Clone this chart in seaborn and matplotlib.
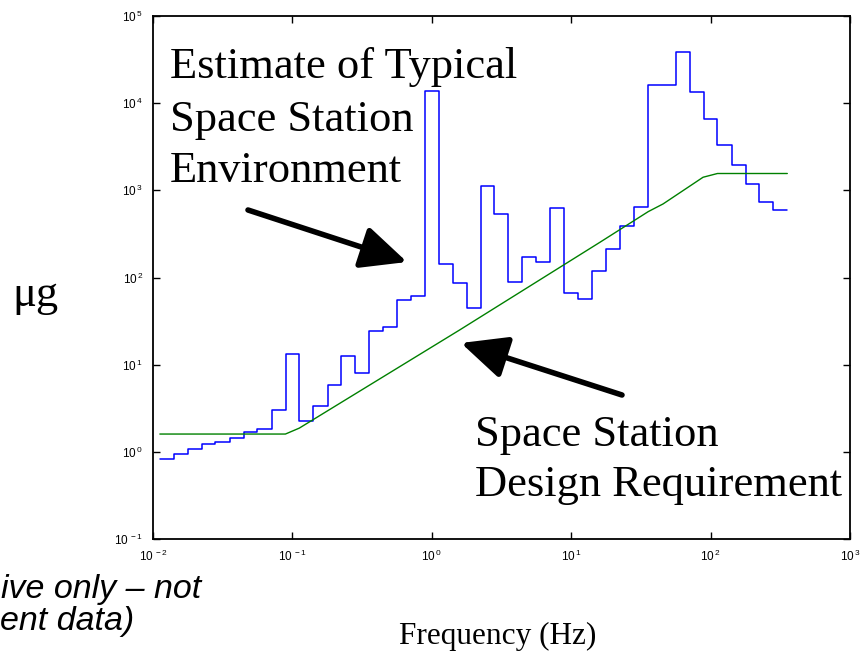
import numpy as np
import matplotlib
matplotlib.use("Agg")
import matplotlib.pyplot as plt
import seaborn as sns
import pandas as pd

# ---- data ----
band_centers = [0.0125, 0.016, 0.02, 0.025, 0.0315, 0.04, 0.05, 0.063, 0.08,
                0.1, 0.125, 0.16, 0.2, 0.25, 0.315, 0.4, 0.5, 0.63, 0.8,
                1.0, 1.25, 1.6, 2.0, 2.5, 3.15, 4.0, 5.0, 6.3, 8.0,
                10, 12.5, 16, 20, 25, 31.5, 40, 50, 63, 80,
                100, 125, 160, 200, 250, 315]
env_ug = [0.82, 0.94, 1.07, 1.22, 1.30, 1.46, 1.71, 1.85, 3.01,
          13.3, 2.27, 3.34, 5.82, 12.6, 8.0, 24.2, 27.3, 55, 61.5,
          13900, 142, 86, 44.5, 1123, 536, 89.8, 174, 151, 623,
          66, 57, 120, 213, 391, 650, 16200, 16200, 38500, 13300,
          6530, 3320, 1955, 1175, 731, 601]

req_freq = [0.0112, 0.0891, 0.112, 1.59, 16.1, 35.7, 45.6, 88.3, 112, 355]
req_ug = [1.6, 1.6, 1.87, 25.1, 254, 570, 698, 1413, 1560, 1560]

xtick_vals = [1e-2, 1e-1, 1e0, 1e1, 1e2, 1e3]
xtick_labels = ["-2", "-1", "0", "1", "2", "3"]
ytick_vals = [1e-1, 1e0, 1e1, 1e2, 1e3, 1e4, 1e5]
ytick_labels = ["-1", "0", "1", "2", "3", "4", "5"]

# ---- style ----
sns.set_theme(style="ticks")
plt.rcParams["font.family"] = ["Liberation Sans", "DejaVu Sans"]
plt.rcParams["mathtext.default"] = "regular"
plt.rcParams["text.color"] = "black"

W, H = 867, 654
fig = plt.figure(figsize=(W / 100, H / 100), dpi=100)
L, R, T, B = 153, 850, 16, 539
ax = fig.add_axes([L / W, 1 - B / H, (R - L) / W, (B - T) / H])

# band edges (1/3-octave, geometric)
c = np.array(band_centers, dtype=float)
edges = np.concatenate([[c[0] / 10 ** 0.05], np.sqrt(c[:-1] * c[1:]), [c[-1] * 10 ** 0.05]])
env_df = pd.DataFrame({"f": edges, "g": list(env_ug) + [env_ug[-1]]})
req_df = pd.DataFrame({"f": req_freq, "g": req_ug})

sns.lineplot(data=env_df, x="f", y="g", ax=ax, color="#0000ff", lw=1.1,
             drawstyle="steps-post", estimator=None, sort=False)
sns.lineplot(data=req_df, x="f", y="g", ax=ax, color="#008000", lw=1.0,
             estimator=None, sort=False)

ax.set_xscale("log")
ax.set_yscale("log")
ax.set_xlim(1e-2, 1e3)
ax.set_ylim(1e-1, 1e5)
ax.set_xlabel("")
ax.set_ylabel("")
ax.minorticks_off()
ax.set_xticks(xtick_vals)
ax.set_xticklabels([r"$10^{\,%s}$" % s for s in xtick_labels])
ax.set_yticks(ytick_vals)
ax.set_yticklabels([r"$10^{\,%s}$" % s for s in ytick_labels])
ax.tick_params(axis="both", which="both", direction="in", length=5, width=1,
               top=True, right=True, labelsize=8.5, colors="black", pad=7)
for sp in ax.spines.values():
    sp.set_visible(True)
    sp.set_color("black")
    sp.set_linewidth(1.3)

def fx(px):
    return px / W

def fy(py):
    return 1 - py / H

serif = ["Liberation Serif", "DejaVu Serif"]
sans = ["Liberation Sans", "DejaVu Sans"]
fs = 32
for txt, yb in [("Estimate of Typical", 78), ("Space Station", 131), ("Environment", 182)]:
    fig.text(fx(170), fy(yb), txt, family=serif, fontsize=fs, va="baseline", ha="left", color="black")
for txt, yb in [("Space Station", 446), ("Design Requirement", 496)]:
    fig.text(fx(475), fy(yb), txt, family=serif, fontsize=fs, va="baseline", ha="left", color="black")
fig.text(fx(12), fy(306), "\u03bcg", family=serif, fontsize=32, va="baseline", ha="left", color="black")
fig.text(fx(498), fy(644), "Frequency (Hz)", family=serif, fontsize=22.5, va="baseline", ha="center",
         color="black")

# footnote (only the part visible in the reference)
fig.text(fx(1), fy(598), "ive only \u2013 not", family=sans,
         style="italic", fontsize=24.5, va="baseline", ha="left", color="black")
fig.text(fx(0), fy(630), "ent data)", family=sans,
         style="italic", fontsize=24.5, va="baseline", ha="left", color="black")

# arrows
arrow_kw = dict(arrowstyle="-|>,head_length=1.4,head_width=0.65", color="black", lw=4,
                shrinkA=0, shrinkB=0, mutation_scale=20, capstyle="round")
ax.annotate("", xy=(fx(407), fy(262)), xycoords="figure fraction",
            xytext=(fx(248), fy(210)), textcoords="figure fraction", arrowprops=arrow_kw)
ax.annotate("", xy=(fx(461), fy(343)), xycoords="figure fraction",
            xytext=(fx(622), fy(395)), textcoords="figure fraction", arrowprops=arrow_kw)

fig.savefig("out.png", dpi=100)
